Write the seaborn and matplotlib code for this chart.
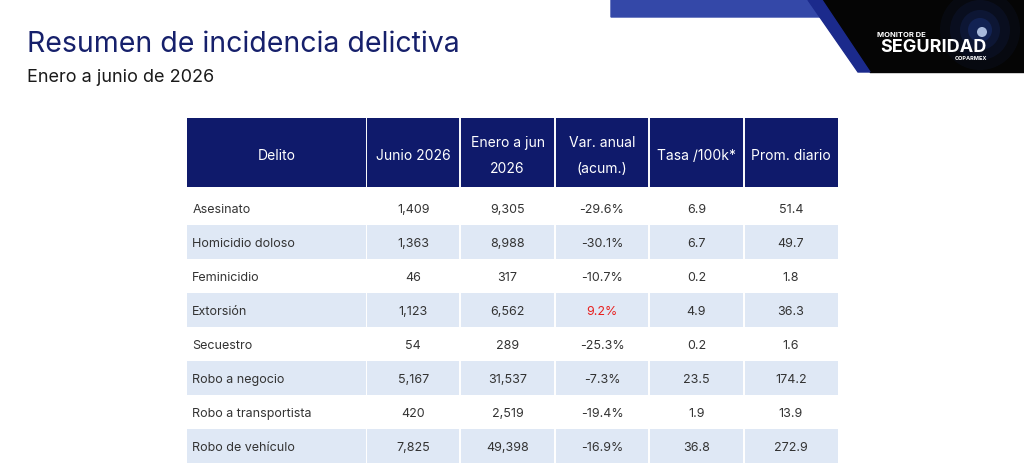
import numpy as np
import pandas as pd
import matplotlib
matplotlib.use("Agg")
import matplotlib.pyplot as plt
from matplotlib.colors import ListedColormap
from matplotlib.patches import Polygon, Circle
import seaborn as sns

# data
delitos = ["Asesinato", "Homicidio doloso", "Feminicidio", "Extorsión",
           "Secuestro", "Robo a negocio", "Robo a transportista", "Robo de vehículo"]
junio_2026 = ["1,409", "1,363", "46", "1,123", "54", "5,167", "420", "7,825"]
enero_jun = ["9,305", "8,988", "317", "6,562", "289", "31,537", "2,519", "49,398"]
var_anual = ["-29.6%", "-30.1%", "-10.7%", "9.2%", "-25.3%", "-7.3%", "-19.4%", "-16.9%"]
tasa_100k = ["6.9", "6.7", "0.2", "4.9", "0.2", "23.5", "1.9", "36.8"]
prom_diario = ["51.4", "49.7", "1.8", "36.3", "1.6", "174.2", "13.9", "272.9"]
headers = ["Delito", "Junio 2026", "Enero a jun\n2026", "Var. anual\n(acum.)",
           "Tasa /100k*", "Prom. diario"]

NAVY = "#0f1a6b"
STRIPE = "#dfe8f5"
TXT = "#333333"
W, H = 1024, 468

sns.set_theme(style="white")
plt.rcParams['font.family'] = ['Inter', 'DejaVu Sans']

fig = plt.figure(figsize=(W / 100, H / 100), dpi=100)

# background / header decoration
bg = fig.add_axes([0, 0, 1, 1])
bg.set_xlim(0, W)
bg.set_ylim(H, 0)
bg.axis("off")
bg.add_patch(Polygon([(611, 0), (822, 0), (834, 17), (611, 17)], color="#3448a8"))
bg.add_patch(Polygon([(822, 0), (1024, 0), (1024, 72), (870, 72)], color="#050505"))
bg.add_patch(Polygon([(808, 0), (822, 0), (870, 72), (858, 72)], color="#1b2a8c"))
for r, a in [(40, 0.06), (30, 0.08), (20, 0.12), (12, 0.2)]:
    bg.add_patch(Circle((980, 30), r, color="#2a55d0", alpha=a, lw=0))
bg.add_patch(Circle((982, 32), 5, color="#cfe0ff", alpha=0.8, lw=0))
bg.text(877, 35, "MONITOR DE", color="white", fontsize=5.5, fontweight="bold", va="center")
bg.text(933, 47, "SEGURIDAD", color="white", fontsize=13, fontweight="bold",
        va="center", ha="center")
bg.text(987, 58, "COPARMEX", color="white", fontsize=4, fontweight="bold",
        va="center", ha="right")
bg.text(27, 44, "Resumen de incidencia delictiva", color="#16206b", fontsize=20.5,
        va="center", ha="left")
bg.text(27, 77, "Enero a junio de 2026", color="#1a1a1a", fontsize=13,
        va="center", ha="left")

n = len(delitos)
cmap = ListedColormap(["white", STRIPE, NAVY])


def cells(rect, values):
    x0, y0, x1, y1 = rect
    a = fig.add_axes([x0 / W, 1 - y1 / H, (x1 - x0) / W, (y1 - y0) / H])
    sns.heatmap(pd.DataFrame(values), ax=a, cmap=cmap, vmin=0, vmax=2, cbar=False,
                xticklabels=False, yticklabels=False, linewidths=0)
    return a


# header and body, Delito column kept separate (it is wider)
stripes = np.array([[i % 2] for i in range(n)])
ax_hd = cells((187, 118, 366, 187), np.full((1, 1), 2))
ax_hn = cells((366, 118, 838, 187), np.full((1, 5), 2))
ax_bd = cells((187, 191, 366, 463), stripes)
ax_bn = cells((366, 191, 838, 463), np.repeat(stripes, 5, axis=1))
ax_hn.vlines(range(0, 5), 0, 1, color="white", lw=1.4)
ax_bn.vlines(range(0, 5), 0, n, color="white", lw=1.4)

ax_hd.text(0.5, 0.55, headers[0], color="white", fontsize=10, ha="center", va="center")
for j, h in enumerate(headers[1:]):
    ax_hn.text(j + 0.5, 0.55, h, color="white", fontsize=10, ha="center", va="center",
               linespacing=2.1)

cols = [junio_2026, enero_jun, var_anual, tasa_100k, prom_diario]
for i in range(n):
    y = i + 0.56
    ax_bd.text(0.03, y, delitos[i], color=TXT, fontsize=9, ha="left", va="center")
    for j, c in enumerate(cols):
        color = "#e8201e" if (j == 2 and not c[i].startswith("-")) else TXT
        ax_bn.text(j + 0.5, y, c[i], color=color, fontsize=9, ha="center", va="center")

fig.savefig("out.png", dpi=100)
